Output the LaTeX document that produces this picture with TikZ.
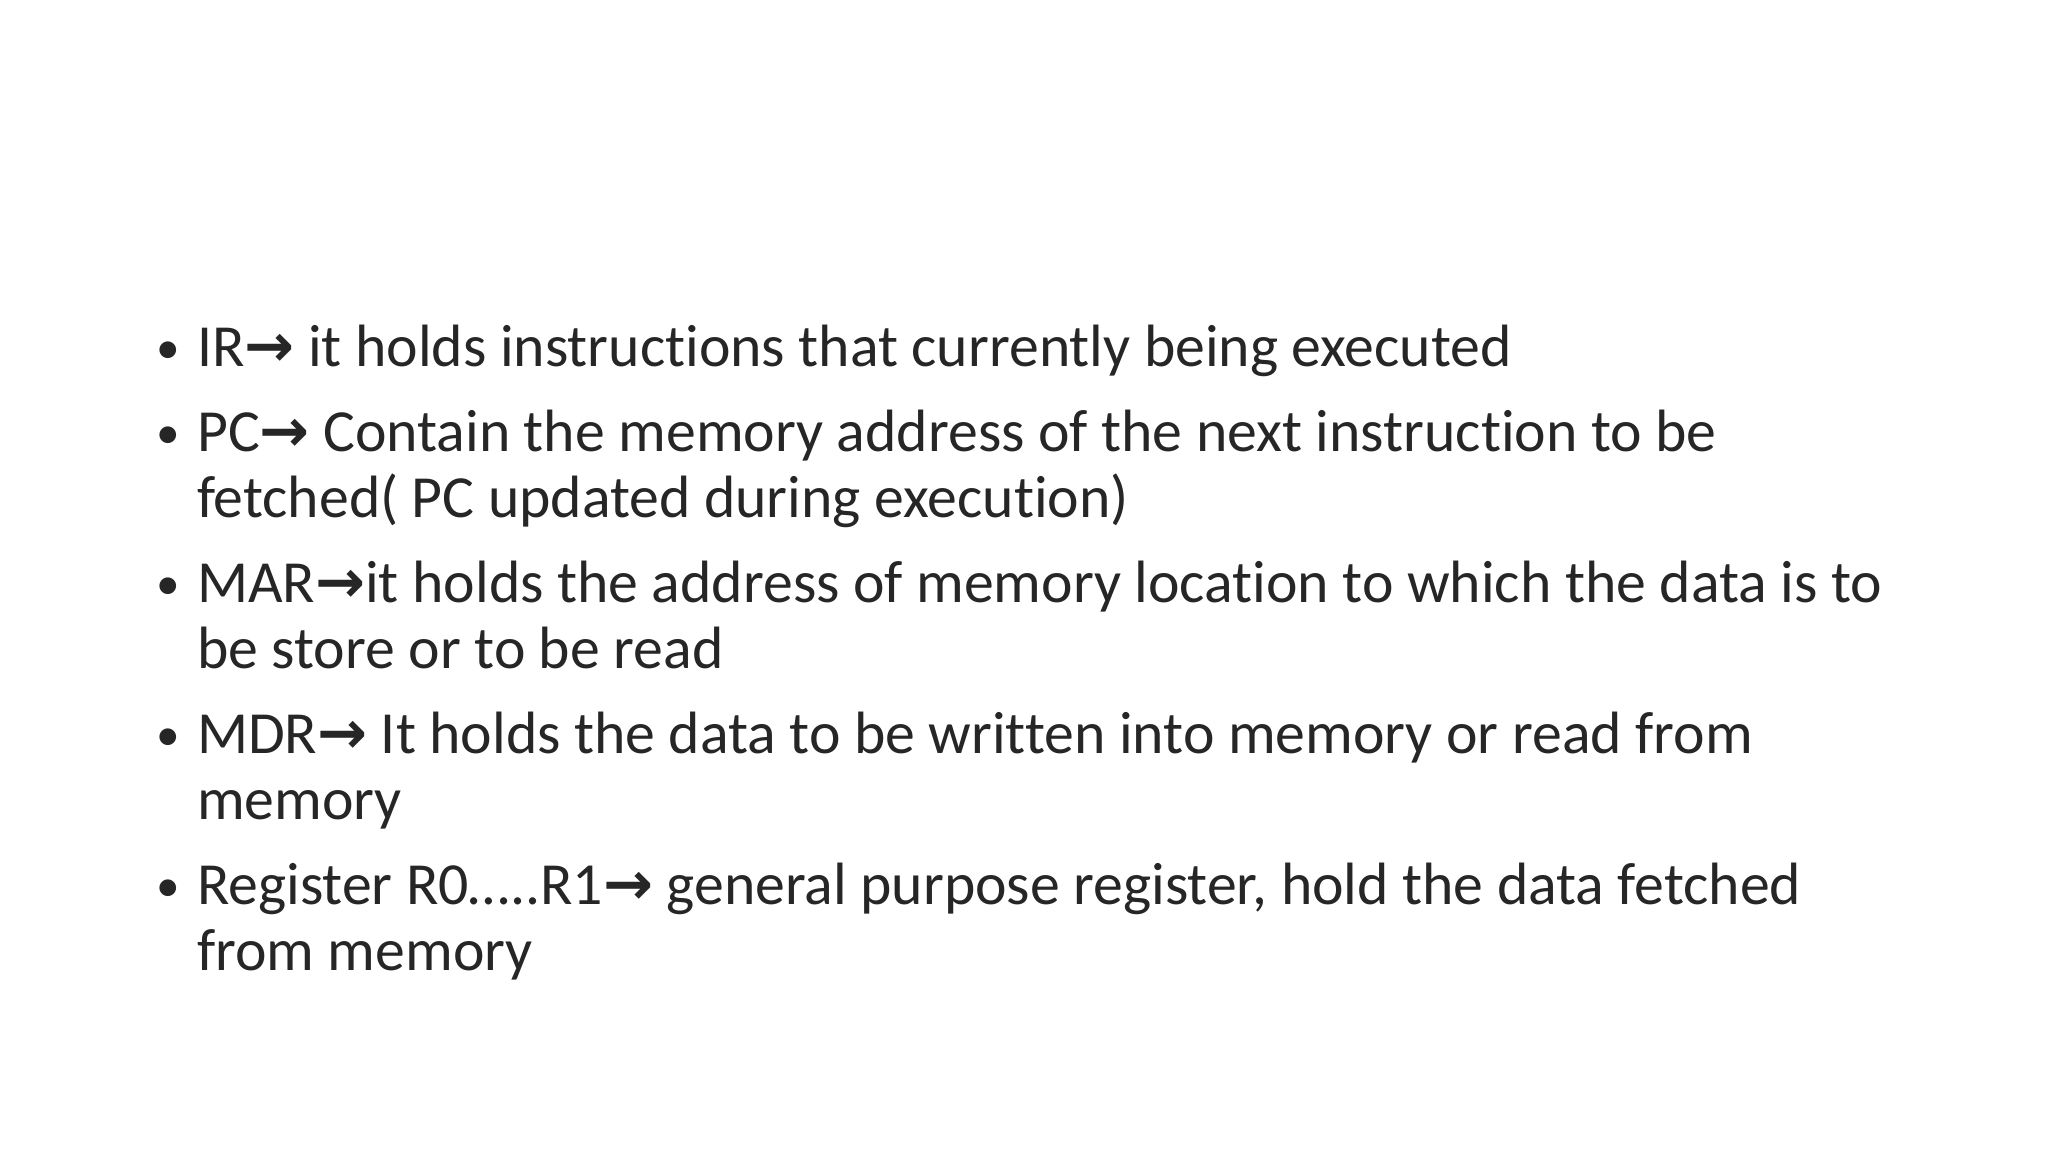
\documentclass[tikz,border=0pt]{standalone}
\usepackage{fontspec}
\setmainfont[Ligatures=NoCommon]{Carlito}
\newfontfamily\arr{DejaVu Sans}
\newcommand{\ar}{{\arr\bfseries →}}
\begin{document}
\begin{tikzpicture}[x=1pt,y=-1pt,
  ln/.style={anchor=base west,inner sep=0pt,font=\fontsize{45.5}{54}\selectfont,text=black!85},
  bl/.style={anchor=base west,inner sep=0pt,font=\fontsize{36}{40}\selectfont,text=black!85}]
\useasboundingbox[fill=white] (0,0) rectangle (1560,877.5);
\foreach \y/\t [count=\i] in {279/{IR\ar{} it holds instructions that currently being executed},
 344/{PC\ar{} Contain the memory address of the next instruction to be},
 394/{fetched( PC updated during execution)},
 459/{MAR\ar it holds the address of memory location to which the data is to},
 509/{be store or to be read},
 574/{MDR\ar{} It holds the data to be written into memory or read from},
 624/{memory},
 689/{Register R0…..R1\ar{} general purpose register, hold the data fetched},
 739/{from memory}}
  \node[ln] (l\i) at (150,\y) {\t};
\foreach \y [count=\i] in {279,344,459,574,689}
  \node[bl] (b\i) at (119,\y-2) {•};
\end{tikzpicture}
\end{document}
